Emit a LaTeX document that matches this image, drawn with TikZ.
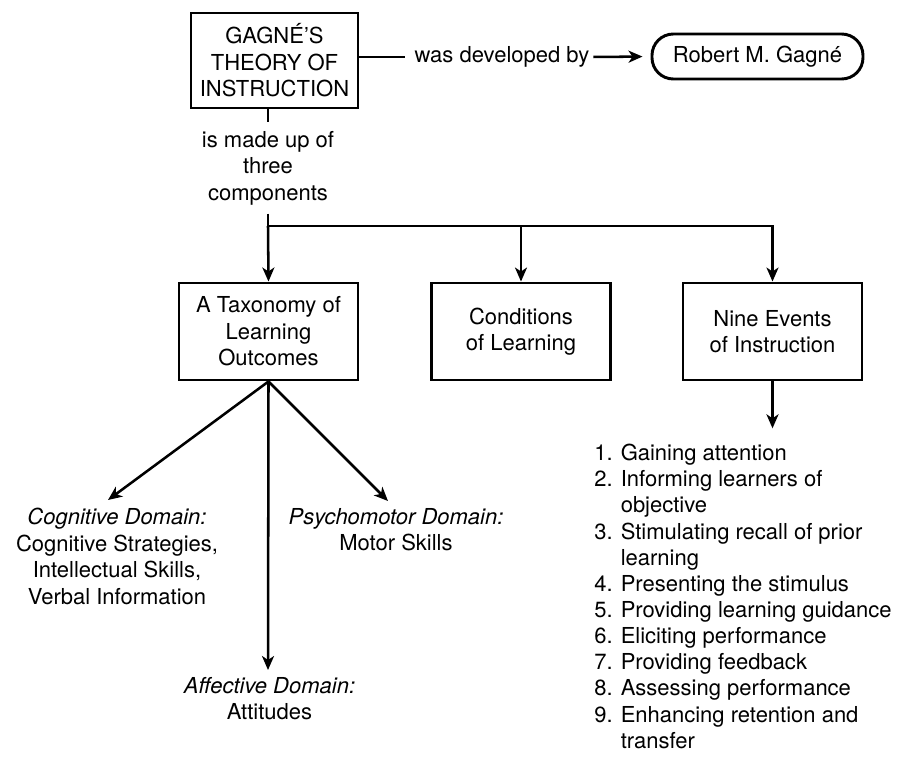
\documentclass[tikz,border=0pt]{standalone}
\usepackage{fontspec}
\setmainfont{TeX Gyre Heros}
\usetikzlibrary{arrows.meta}

\begin{document}
\begin{tikzpicture}[x = 0.75pt, y = -0.75pt, >={Stealth[length=10.5pt, width=9pt, inset=3pt]}, line width = 1.9pt,
  font = \fontsize{16.5}{19.9}\selectfont,
  box/.style = {draw, line width = 2.2pt, align = center, inner sep = 0pt, minimum width = 134.25pt, minimum height = 72.75pt},
  pill/.style = {draw, line width = 2.2pt, rounded corners = 16pt, inner sep = 0pt, minimum width = 158.25pt, minimum height = 33.75pt},
  lbl/.style = {align = center, inner sep = 0pt}]
\useasboundingbox (0,0) rectangle (897,758);

% top of the map
\node[box, minimum width = 125.25pt, minimum height = 71.25pt] (theory) at (274.5,60.5) {GAGNÉ’S\\THEORY OF\\INSTRUCTION};
\node[pill] (gagne) at (757.5,56.5) {Robert M. Gagné};
\node[lbl] (devby) at (502,57) {was developed by};
\draw[shorten >= 6pt] (theory.east |- devby) -- (devby.west);
\draw[->, shorten <= 2pt, shorten >= 6pt] (devby.east) -- (gagne.west);

\node[lbl, inner ysep = 5.5pt] (isup) at (268,168) {is made up of\\three\\components};
\draw (theory.south -| isup.north) -- (isup.north);
\coordinate (split) at (268,226);
\draw (isup.south) -- (split);

% the three components
\node[box] (tax) at (268.5,331.5) {A Taxonomy of\\Learning\\Outcomes};
\node[box] (cond) at (521,331.5) {Conditions\\of Learning};
\node[box] (nine) at (772.5,331.5) {Nine Events\\of Instruction};
\draw[->] (split) -- (tax.north);
\draw[->] (split -| cond.north) -- (cond.north);
\draw[->] (split) -| (nine.north);

% domains
\node[lbl, anchor = north] (cog) at (117,507) {\itshape Cognitive Domain:\\Cognitive Strategies,\\Intellectual Skills,\\Verbal Information};
\node[lbl, anchor = north] (psy) at (396,507) {\itshape Psychomotor Domain:\\Motor Skills};
\node[lbl, anchor = north] (aff) at (269.5,676) {\itshape Affective Domain:\\Attitudes};
\draw[->] (tax.south) -- ([shift = {(-9,-7)}]cog.north);
\draw[->] (tax.south) -- ([shift = {(-8,-6)}]psy.north);
\draw[->] (tax.south) -- ([shift = {(-1.5,-6)}]aff.north);

% the nine events
\node[anchor = north west, align = left, inner sep = 0pt, font = \fontsize{16.5}{19.6}\selectfont] (events) at (593,443) {1. Gaining attention\\
2. Informing learners of\\\phantom{2. }objective\\
3. Stimulating recall of prior\\\phantom{3. }learning\\
4. Presenting the stimulus\\
5. Providing learning guidance\\
6. Eliciting performance\\
7. Providing feedback\\
8. Assessing performance\\
9. Enhancing retention and\\\phantom{9. }transfer};
\draw[->, shorten >= 11pt] (nine.south) -- (nine.south |- events.north);
\end{tikzpicture}
\end{document}
